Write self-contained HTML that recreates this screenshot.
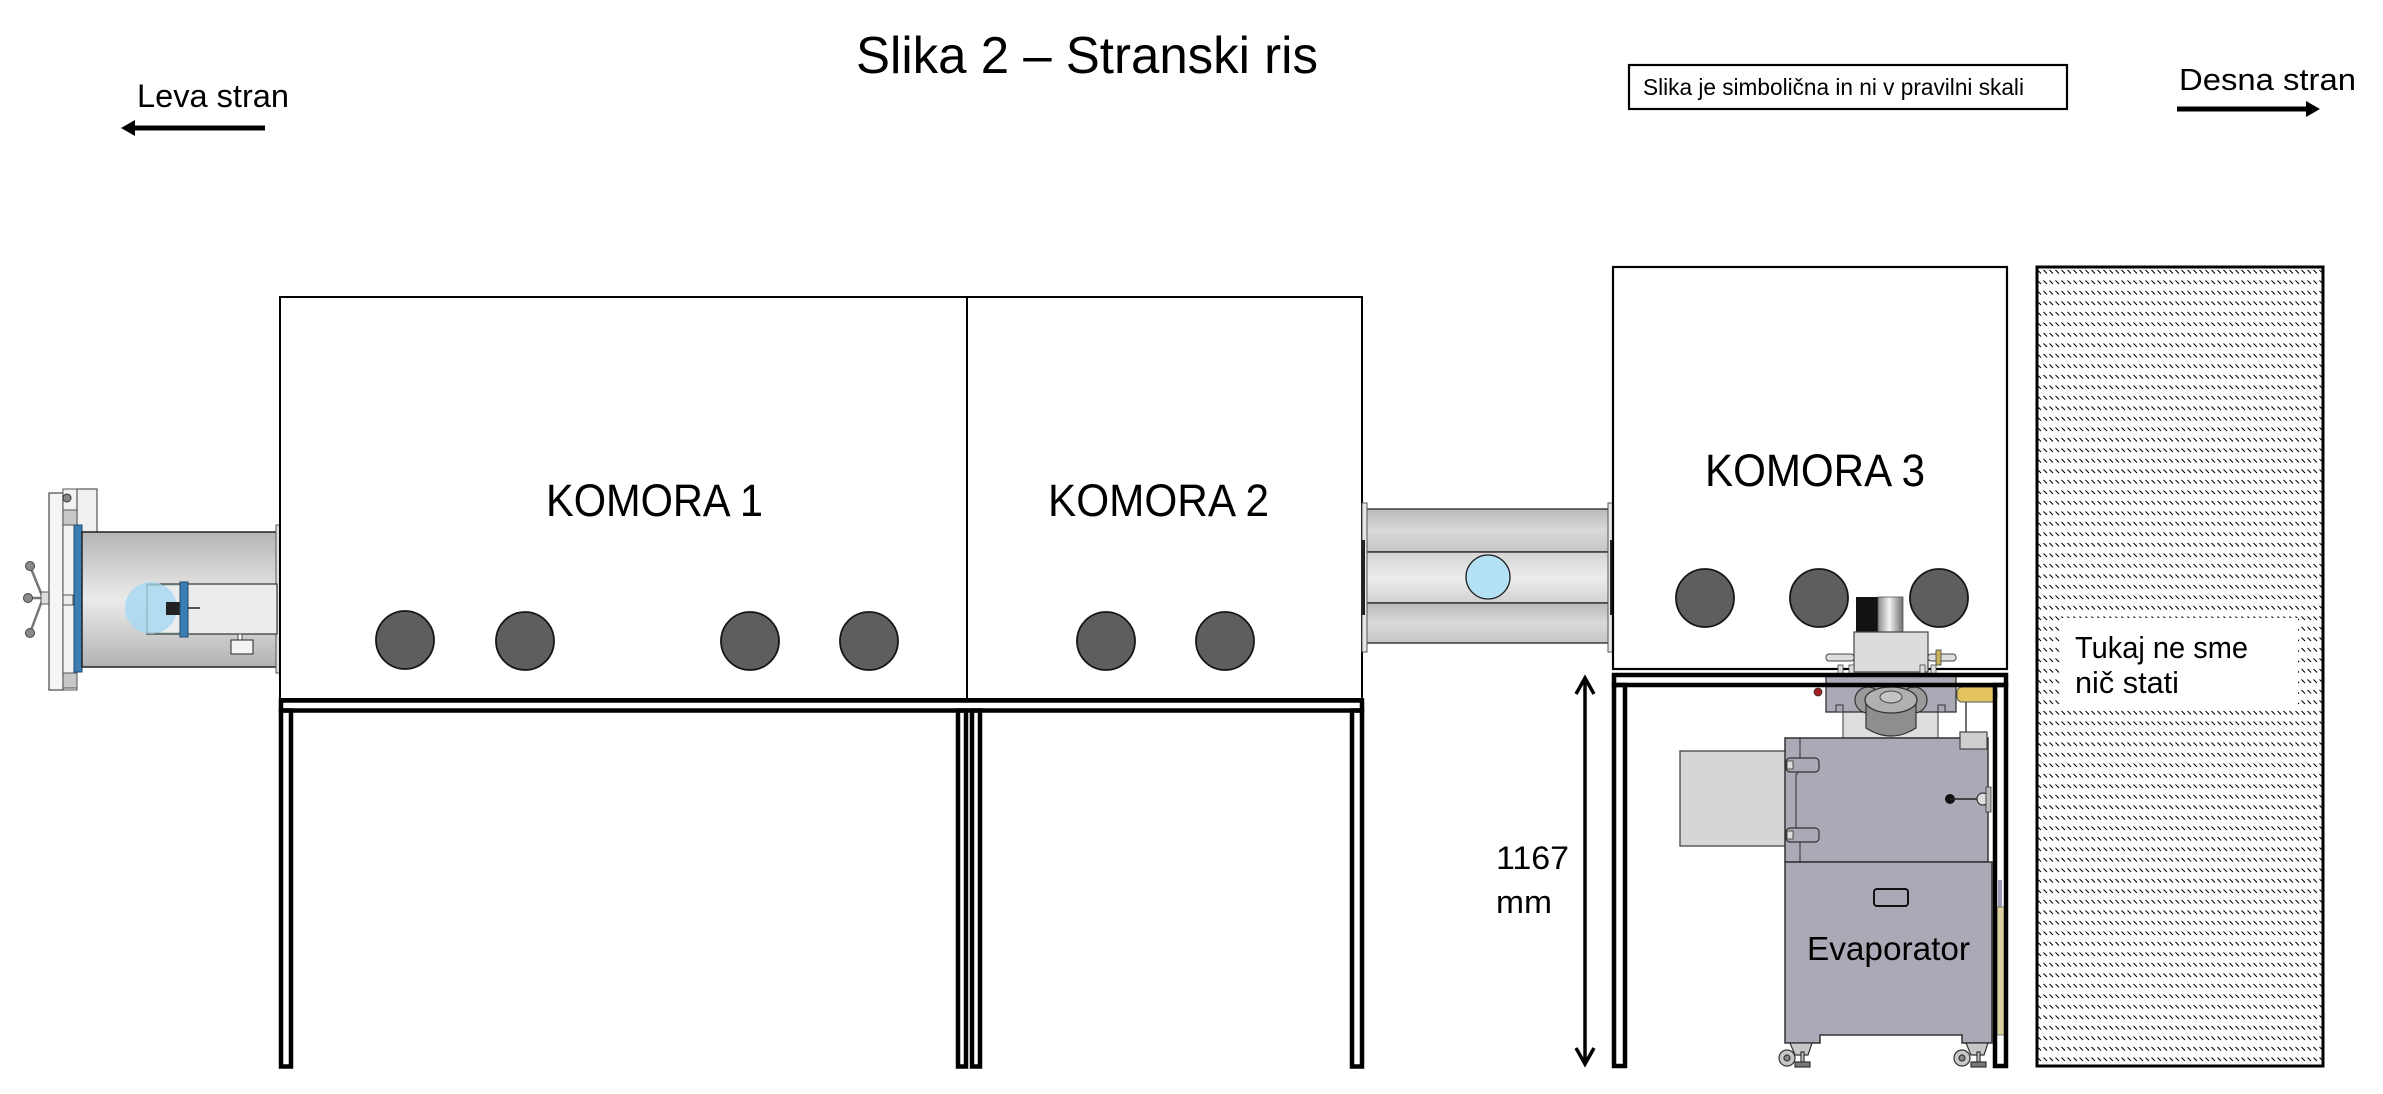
<!DOCTYPE html>
<html><head><meta charset="utf-8"><style>
html,body{margin:0;padding:0;background:#fff;}
svg{display:block;}
text{font-family:"Liberation Sans",sans-serif;fill:#000;}
</style></head><body>
<svg width="2383" height="1094" viewBox="0 0 2383 1094" xmlns="http://www.w3.org/2000/svg">
<defs>
<linearGradient id="cyl" x1="0" y1="0" x2="0" y2="1">
<stop offset="0" stop-color="#b4b4b4"/><stop offset="0.5" stop-color="#ebebeb"/><stop offset="1" stop-color="#b2b2b2"/>
</linearGradient>
<linearGradient id="band1" x1="0" y1="0" x2="0" y2="1">
<stop offset="0" stop-color="#b9b9b9"/><stop offset="0.5" stop-color="#d9d9d9"/><stop offset="1" stop-color="#c6c6c6"/>
</linearGradient>
<linearGradient id="band2" x1="0" y1="0" x2="0" y2="1">
<stop offset="0" stop-color="#d4d4d4"/><stop offset="0.5" stop-color="#ececec"/><stop offset="1" stop-color="#d2d2d2"/>
</linearGradient>
<linearGradient id="silver" x1="0" y1="0" x2="1" y2="0">
<stop offset="0" stop-color="#8a8a8a"/><stop offset="0.45" stop-color="#f4f4f4"/><stop offset="1" stop-color="#6e6e6e"/>
</linearGradient>
<pattern id="hatch" x="2037" y="268" width="6" height="10.5" patternUnits="userSpaceOnUse">
<path d="M0.5 2 L4 5.5" stroke="#000" stroke-width="1.05"/>
</pattern>
</defs>

<!-- Title & labels -->
<text x="856" y="73" font-size="52" textLength="462" lengthAdjust="spacingAndGlyphs">Slika 2 – Stranski ris</text>
<text x="137" y="107" font-size="32" textLength="152" lengthAdjust="spacingAndGlyphs">Leva stran</text>
<line x1="265" y1="128" x2="132" y2="128" stroke="#000" stroke-width="5"/>
<polygon points="121,128 135,120 135,136" fill="#000"/>

<rect x="1629" y="65" width="438" height="44" fill="#fff" stroke="#000" stroke-width="2.2"/>
<text x="1643" y="95" font-size="23" textLength="381" lengthAdjust="spacingAndGlyphs">Slika je simbolična in ni v pravilni skali</text>

<text x="2179" y="90" font-size="31" textLength="177" lengthAdjust="spacingAndGlyphs">Desna stran</text>
<line x1="2177" y1="109" x2="2309" y2="109" stroke="#000" stroke-width="5"/>
<polygon points="2320,109 2306,101 2306,117" fill="#000"/>

<!-- Left antechamber -->
<g>
<line x1="43" y1="598" x2="30" y2="566" stroke="#777" stroke-width="2.5"/>
<line x1="43" y1="598" x2="28" y2="598" stroke="#777" stroke-width="2.5"/>
<line x1="43" y1="598" x2="30" y2="633" stroke="#777" stroke-width="2.5"/>
<circle cx="30" cy="566" r="4.5" fill="#8a8a8a" stroke="#444" stroke-width="1"/>
<circle cx="28" cy="598" r="4.5" fill="#8a8a8a" stroke="#444" stroke-width="1"/>
<circle cx="30" cy="633" r="4.5" fill="#8a8a8a" stroke="#444" stroke-width="1"/>
<rect x="41" y="592" width="8" height="12" fill="#ddd" stroke="#555" stroke-width="1"/>
<rect x="49" y="493" width="14" height="197" fill="#f5f5f5" stroke="#555" stroke-width="1.3"/>
<rect x="63" y="489" width="14" height="201" fill="#f2f2f2" stroke="#555" stroke-width="1"/>
<rect x="77" y="489" width="20" height="43" fill="#f0f0f0" stroke="#555" stroke-width="1.2"/>
<rect x="63" y="510" width="14" height="15" fill="#c8c8c8" stroke="#555" stroke-width="1"/>
<rect x="63" y="673" width="14" height="15" fill="#c8c8c8" stroke="#555" stroke-width="1"/>
<circle cx="67" cy="498" r="4" fill="#888" stroke="#333" stroke-width="1"/>
<rect x="63" y="595" width="10" height="10" fill="#eee" stroke="#555" stroke-width="1"/>
<rect x="74" y="525" width="8" height="147" fill="#3b7db3" stroke="#1f4a6e" stroke-width="1"/>
<rect x="82" y="532" width="195" height="135" fill="url(#cyl)" stroke="#222" stroke-width="1.5"/>
<rect x="276" y="525" width="5" height="148" fill="#e0e0e0" stroke="#555" stroke-width="1"/>
<rect x="147" y="584" width="130" height="50" fill="#ececec" stroke="#333" stroke-width="1.2"/>
<circle cx="151" cy="608" r="26" fill="#a9d9f3" opacity="0.85"/>
<rect x="147" y="585" width="33" height="48" fill="none" stroke="#8aa" stroke-width="0.8"/>
<rect x="166" y="602" width="15" height="13" fill="#222"/>
<line x1="181" y1="608" x2="200" y2="608" stroke="#222" stroke-width="1.5"/>
<rect x="180" y="582" width="8" height="55" fill="#3b7db3" stroke="#1f4a6e" stroke-width="1"/>
<rect x="238" y="634" width="4" height="6" fill="#fff" stroke="#444" stroke-width="1"/>
<rect x="231" y="640" width="22" height="14" fill="#f4f4f4" stroke="#444" stroke-width="1.2"/>
</g>

<!-- Komora 1 & 2 -->
<rect x="280" y="297" width="687" height="402" fill="#fff" stroke="#000" stroke-width="2"/>
<rect x="967" y="297" width="395" height="402" fill="#fff" stroke="#000" stroke-width="2"/>
<text x="546" y="516" font-size="45" textLength="217" lengthAdjust="spacingAndGlyphs">KOMORA 1</text>
<text x="1048" y="516" font-size="45" textLength="221" lengthAdjust="spacingAndGlyphs">KOMORA 2</text>
<g fill="#5e5e5e" stroke="#161616" stroke-width="1.8">
<circle cx="405" cy="640" r="29"/>
<circle cx="525" cy="641" r="29"/>
<circle cx="750" cy="641" r="29"/>
<circle cx="869" cy="641" r="29"/>
<circle cx="1106" cy="641" r="29"/>
<circle cx="1225" cy="641" r="29"/>
</g>

<!-- Table komora 1/2 -->
<g fill="none" stroke="#000" stroke-width="4.5">
<rect x="281" y="700.5" width="1081" height="10"/>
<rect x="281" y="710.5" width="10" height="356"/>
<rect x="958" y="710.5" width="8" height="356"/>
<rect x="972" y="710.5" width="8" height="356"/>
<rect x="1352" y="710.5" width="10" height="356"/>
</g>

<!-- Middle connector -->
<rect x="1365" y="509" width="245" height="43" fill="url(#band1)" stroke="#222" stroke-width="1.3"/>
<rect x="1365" y="552" width="245" height="51" fill="url(#band2)" stroke="#222" stroke-width="1.3"/>
<rect x="1365" y="603" width="245" height="40" fill="url(#band1)" stroke="#222" stroke-width="1.3"/>
<rect x="1362" y="503" width="5" height="149" fill="#e6e6e6" stroke="#555" stroke-width="1"/>
<rect x="1608" y="503" width="5" height="149" fill="#e6e6e6" stroke="#555" stroke-width="1"/>
<rect x="1362" y="540" width="3" height="75" fill="#222"/>
<rect x="1610" y="540" width="3" height="75" fill="#222"/>
<circle cx="1488" cy="577" r="22" fill="#b3e1f6" stroke="#222" stroke-width="1.3"/>

<!-- Komora 3 -->
<rect x="1613" y="267" width="394" height="402" fill="#fff" stroke="#000" stroke-width="2.2"/>
<text x="1705" y="486" font-size="45" textLength="220" lengthAdjust="spacingAndGlyphs">KOMORA 3</text>
<g fill="#5e5e5e" stroke="#161616" stroke-width="1.8">
<circle cx="1705" cy="598" r="29"/>
<circle cx="1819" cy="598" r="29"/>
<circle cx="1939" cy="598" r="29"/>
</g>

<!-- Evaporator -->
<g>
<rect x="1856" y="597" width="22" height="35" fill="#121212"/>
<rect x="1878" y="597" width="25" height="35" fill="url(#silver)" stroke="#555" stroke-width="0.8"/>
<rect x="1854" y="632" width="74" height="40" fill="#dcdcdc" stroke="#444" stroke-width="1.2"/>
<rect x="1826" y="654" width="28" height="7" rx="3" fill="#ddd" stroke="#444" stroke-width="1"/>
<rect x="1928" y="654" width="28" height="7" rx="3" fill="#ddd" stroke="#444" stroke-width="1"/>
<rect x="1936" y="650" width="5" height="15" fill="#c9b25a" stroke="#444" stroke-width="0.8"/>
<rect x="1843" y="704" width="95" height="34" fill="#dedede" stroke="#555" stroke-width="1.2"/>
<rect x="1826" y="675" width="130" height="37" fill="#a9aab6" stroke="#333" stroke-width="1.3"/>
<rect x="1838" y="665" width="5" height="10" fill="#ddd" stroke="#444" stroke-width="0.8"/>
<rect x="1849" y="665" width="5" height="10" fill="#ddd" stroke="#444" stroke-width="0.8"/>
<rect x="1920" y="665" width="5" height="10" fill="#ddd" stroke="#444" stroke-width="0.8"/>
<rect x="1931" y="665" width="5" height="10" fill="#ddd" stroke="#444" stroke-width="0.8"/>
<rect x="1836" y="705" width="7" height="7" fill="#a9aab6" stroke="#333" stroke-width="1"/>
<rect x="1938" y="705" width="7" height="7" fill="#a9aab6" stroke="#333" stroke-width="1"/>
<circle cx="1868" cy="700" r="13" fill="#9a9a9a" stroke="#333" stroke-width="1.2"/>
<circle cx="1914" cy="700" r="13" fill="#9a9a9a" stroke="#333" stroke-width="1.2"/>
<path d="M1866 700 L1866 728 Q1891 744 1916 728 L1916 700 Z" fill="#8e8e8e" stroke="#333" stroke-width="1.2"/>
<ellipse cx="1891" cy="700" rx="26" ry="13" fill="#b0b0b0" stroke="#333" stroke-width="1.3"/>
<ellipse cx="1891" cy="697" rx="11" ry="6" fill="#c4c4c4" stroke="#444" stroke-width="1"/>
<circle cx="1818" cy="692" r="4" fill="#a02020" stroke="#333" stroke-width="0.8"/>
<rect x="1957" y="687" width="40" height="15" rx="5" fill="#e4c45c" stroke="#555" stroke-width="1"/>
<line x1="1966" y1="702" x2="1966" y2="732" stroke="#444" stroke-width="1.5"/>
<rect x="1680" y="751" width="106" height="95" fill="#d6d6d6" stroke="#444" stroke-width="1.3"/>
<rect x="1785" y="738" width="203" height="124" fill="#a9aab6" stroke="#333" stroke-width="1.5"/>
<path d="M1800 738 L1800 770 L1796 775 L1796 830 L1800 835 L1800 862" fill="none" stroke="#444" stroke-width="1.2"/>
<rect x="1786" y="758" width="33" height="14" rx="4" fill="#a9aab6" stroke="#333" stroke-width="1.2"/>
<rect x="1786" y="828" width="33" height="14" rx="4" fill="#a9aab6" stroke="#333" stroke-width="1.2"/>
<rect x="1787" y="761" width="6" height="8" fill="#ddd" stroke="#333" stroke-width="0.8"/>
<rect x="1787" y="831" width="6" height="8" fill="#ddd" stroke="#333" stroke-width="0.8"/>
<rect x="1960" y="732" width="27" height="17" fill="#cfcfcf" stroke="#444" stroke-width="1.2"/>
<circle cx="1950" cy="799" r="5" fill="#111"/>
<line x1="1950" y1="799" x2="1980" y2="799" stroke="#222" stroke-width="1.5"/>
<circle cx="1983" cy="799" r="6" fill="#ddd" stroke="#333" stroke-width="1.2"/>
<rect x="1986" y="787" width="5" height="25" fill="#bbb" stroke="#333" stroke-width="0.8"/>
<path d="M1785 862 L1992 862 L1992 1043 L1962 1043 L1962 1035 L1820 1035 L1820 1043 L1785 1043 Z" fill="#a9aab6" stroke="#333" stroke-width="1.5"/>
<rect x="1874" y="889" width="34" height="17" rx="3" fill="#a9aab6" stroke="#111" stroke-width="2"/>
<rect x="1998" y="880" width="4" height="27" fill="#9a9ab8"/>
<rect x="1997" y="907" width="8" height="128" fill="#d9d1a0" stroke="#666" stroke-width="0.8"/>
<g fill="#c8c8c8" stroke="#333" stroke-width="1.2">
<path d="M1790 1043 L1812 1043 L1808 1055 L1795 1055 Z"/>
<circle cx="1787" cy="1058" r="8"/>
<circle cx="1787" cy="1058" r="3" fill="#888"/>
<rect x="1801" y="1052" width="3" height="10"/>
<rect x="1795" y="1062" width="15" height="5" fill="#777"/>
<path d="M1966 1043 L1988 1043 L1984 1055 L1971 1055 Z"/>
<circle cx="1962" cy="1058" r="8"/>
<circle cx="1962" cy="1058" r="3" fill="#888"/>
<rect x="1977" y="1052" width="3" height="10"/>
<rect x="1971" y="1062" width="15" height="5" fill="#777"/>
</g>
<text x="1807" y="960" font-size="33" textLength="163" lengthAdjust="spacingAndGlyphs">Evaporator</text>
</g>

<!-- Table komora 3 -->
<g fill="none" stroke="#000" stroke-width="4.5">
<rect x="1614" y="675" width="392" height="10"/>
<rect x="1614" y="685" width="11" height="381"/>
<rect x="1995" y="685" width="11" height="381"/>
</g>

<!-- Dimension -->
<line x1="1585" y1="678" x2="1585" y2="1064" stroke="#000" stroke-width="3.5"/>
<polyline points="1576,694 1585,678 1594,694" fill="none" stroke="#000" stroke-width="3.5"/>
<polyline points="1576,1048 1585,1064 1594,1048" fill="none" stroke="#000" stroke-width="3.5"/>
<text x="1496" y="869" font-size="32" textLength="73" lengthAdjust="spacingAndGlyphs">1167</text>
<text x="1496" y="913" font-size="32" textLength="56" lengthAdjust="spacingAndGlyphs">mm</text>

<!-- Hatched area -->
<rect x="2037" y="267" width="286" height="799" fill="url(#hatch)" stroke="#000" stroke-width="3"/>
<rect x="2060" y="618" width="238" height="87" fill="#fff"/>
<text x="2075" y="658" font-size="31" textLength="173" lengthAdjust="spacingAndGlyphs">Tukaj ne sme</text>
<text x="2075" y="693" font-size="31" textLength="104" lengthAdjust="spacingAndGlyphs">nič stati</text>
</svg>
</body></html>
